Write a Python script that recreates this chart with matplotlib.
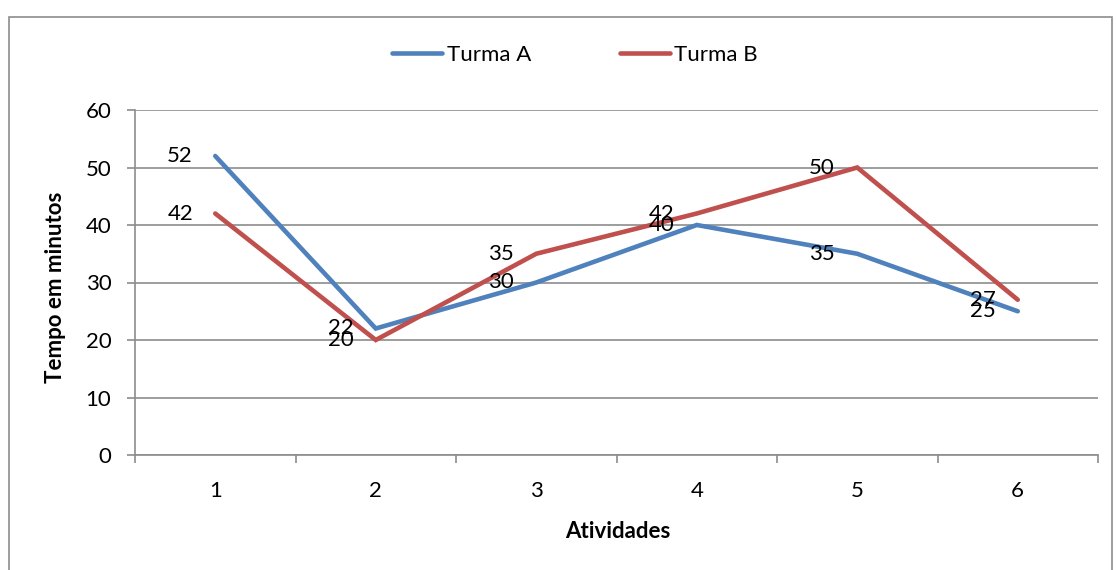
import matplotlib
matplotlib.use("Agg")
import matplotlib.pyplot as plt
from matplotlib.patches import Rectangle

plt.rcParams['font.family'] = ['Lato', 'DejaVu Sans']

atividades = [1, 2, 3, 4, 5, 6]
turma_a = [52, 22, 30, 40, 35, 25]
turma_b = [42, 20, 35, 42, 50, 27]
yticks = [0, 10, 20, 30, 40, 50, 60]

BLUE = '#4F81BD'
RED = '#C0504D'
GRID = '#8C8C8C'
FS = 16

fig = plt.figure(figsize=(11.17, 5.70), dpi=100)
W, H = 1117, 570
# plot area in pixels: left 135, right 1098, top 110, bottom 455
ax = fig.add_axes([135 / W, 1 - 455 / H, (1098 - 135) / W, (455 - 110) / H])

# chart frame
fig.patches.append(Rectangle((9 / W, -0.05), (1112 - 9) / W, 1.05 - 17 / H,
                             transform=fig.transFigure, fill=False,
                             edgecolor='#8C8C8C', linewidth=1.2))

la, = ax.plot(atividades, turma_a, color=BLUE, lw=3.3, solid_capstyle='round',
              solid_joinstyle='miter', label='Turma A', zorder=3)
lb, = ax.plot(atividades, turma_b, color=RED, lw=3.3, solid_capstyle='round',
              solid_joinstyle='miter', label='Turma B', zorder=3)

# data labels to the left of each point
for xs, ys in [(atividades, turma_a), (atividades, turma_b)]:
    for x, y in zip(xs, ys):
        ax.annotate(str(y), (x, y), xytext=(-16, 0), textcoords='offset points',
                    ha='right', va='center', fontsize=FS, color='black', zorder=4)

ax.set_xlim(0.5, 6.5)
ax.set_ylim(0, 60)
ax.set_yticks(yticks)
ax.set_xticks(atividades)
ax.set_xticks([0.5 + i for i in range(7)], minor=True)
ax.yaxis.grid(True, color=GRID, lw=1.2)
ax.set_axisbelow(True)
for s in ['top', 'right']:
    ax.spines[s].set_visible(False)
for s in ['left', 'bottom']:
    ax.spines[s].set_color(GRID)
    ax.spines[s].set_linewidth(1.2)
ax.tick_params(axis='x', which='major', length=0, pad=19, labelsize=FS)
ax.tick_params(axis='x', which='minor', length=6, color=GRID, width=1.2)
ax.tick_params(axis='y', length=6, color=GRID, width=1.2, pad=11, labelsize=FS)

ax.set_xlabel('Atividades', fontsize=FS, fontweight='bold')
ax.set_ylabel('Tempo em minutos', fontsize=FS, fontweight='bold')
ax.xaxis.set_label_coords(0.5 + (617 - 616) / 963, (455 - 531) / 345)
ax.yaxis.set_label_coords((55 - 135) / 963, 0.5 + (282 - 287) / 345)
ax.xaxis.label.set_va('center')
ax.yaxis.label.set_va('center')

fig.legend(handles=[la, lb], loc='center', bbox_to_anchor=(575 / W, 1 - 55 / H),
           ncol=2, frameon=False, fontsize=FS, handlelength=2.25, handletextpad=0.2,
           columnspacing=4.0)

fig.savefig('out.png', dpi=100)
